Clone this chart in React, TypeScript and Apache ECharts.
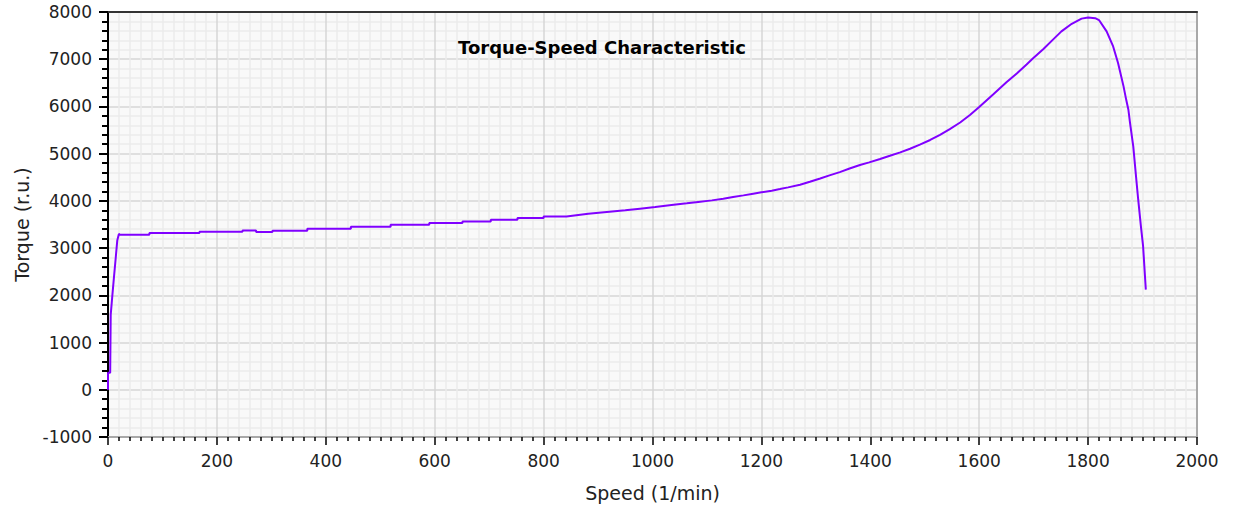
import React, { useEffect, useRef } from "react";
import * as echarts from "echarts";

const speed = [
  0, 0, 4, 5, 8, 11, 14, 17, 20, 22,
  76, 76, 168, 168, 247, 247, 272, 272, 302, 302, 366, 366, 446, 446, 519, 519, 590, 590, 651, 651, 703, 703, 752, 752, 800, 800,
  842, 882, 916, 950, 977, 1005, 1035, 1063, 1084, 1109, 1130, 1148, 1167, 1185, 1200, 1219, 1234, 1249,
  1271, 1289, 1308, 1325, 1344, 1362, 1381, 1398, 1418, 1436, 1455, 1473, 1491, 1510, 1528, 1546, 1565, 1583, 1600,
  1626, 1650, 1669, 1687, 1699, 1718, 1735, 1751, 1770, 1788, 1800, 1813, 1820,
  1834, 1846, 1855, 1865, 1870, 1874, 1877, 1883, 1888, 1892, 1897, 1901, 1906,
];
const torque = [
  0, 360, 360, 1590, 2000, 2390, 2770, 3160, 3300, 3284,
  3284, 3320, 3320, 3347, 3347, 3375, 3375, 3340, 3340, 3368, 3368, 3410, 3410, 3453, 3453, 3496, 3496, 3530, 3530, 3566, 3566, 3600, 3600, 3636, 3636, 3670,
  3670, 3728, 3764, 3800, 3835, 3870, 3912, 3948, 3977, 4011, 4047, 4082, 4117, 4153, 4181, 4216, 4250, 4286,
  4343, 4405, 4475, 4540, 4610, 4685, 4760, 4815, 4887, 4955, 5028, 5105, 5191, 5290, 5400, 5520, 5660, 5820, 5990,
  6260, 6510, 6700, 6890, 7020, 7215, 7410, 7590, 7750, 7860, 7885, 7870, 7830,
  7590, 7270, 6920, 6430, 6140, 5930, 5650, 5150, 4520, 4030, 3460, 3040, 2120,
];

const xRange = { min: 0, max: 2000, interval: 200 };
const yRange = { min: -1000, max: 8000, interval: 1000 };

const titleText = "Torque-Speed Characteristic";
const xName = "Speed (1/min)";
const yName = "Torque (r.u.)";

export default function App() {
  const ref = useRef<HTMLDivElement>(null);
  useEffect(() => {
    if (!ref.current) return;
    const chart = echarts.init(ref.current, null, { renderer: "svg" });
    const font = "DejaVu Sans";
    const data = speed.map((s, i) => [s, torque[i]]);
    const fmt = (v: number) => String(v);
    chart.setOption({
      animation: false,
      backgroundColor: "#ffffff",
      title: {
        text: titleText,
        left: 597,
        top: 33,
        textAlign: "center",
        textStyle: { fontFamily: font, fontWeight: "bold", fontSize: 18, color: "#000" },
      },
      grid: {
        left: 108,
        right: 38,
        top: 12,
        bottom: 74,
        show: true,
        backgroundColor: "#f9f9f9",
        borderWidth: 0,
      },
      xAxis: [
        {
          type: "value",
          ...xRange,
          name: xName,
          nameLocation: "middle",
          nameGap: 46,
          nameTextStyle: { fontFamily: font, fontSize: 19, color: "#222" },
          axisLine: { show: true, onZero: false, lineStyle: { color: "#a8a8a8", width: 2 } },
          axisTick: { show: true, length: 8, lineStyle: { color: "#000", width: 1.5 } },
          minorTick: { show: true, splitNumber: 10, length: 4, lineStyle: { color: "#000", width: 1.5 } },
          axisLabel: { margin: 15, fontFamily: font, fontSize: 17, color: "#222", formatter: fmt },
          splitLine: { show: true, lineStyle: { color: "#d6d6d6", width: 1.5 } },
          minorSplitLine: { show: true, lineStyle: { color: "#ebebeb", width: 1.5 } },
        },
        {
          type: "value",
          ...xRange,
          position: "top",
          axisLine: { show: true, onZero: false, lineStyle: { color: "#333", width: 2 } },
          axisTick: { show: false },
          axisLabel: { show: false },
          splitLine: { show: false },
        },
      ],
      yAxis: [
        {
          type: "value",
          ...yRange,
          name: yName,
          nameLocation: "middle",
          nameGap: 76,
          nameTextStyle: { fontFamily: font, fontSize: 19, color: "#222" },
          axisLine: { show: true, onZero: false, lineStyle: { color: "#000", width: 2 } },
          axisTick: { show: true, length: 9, lineStyle: { color: "#000", width: 2 } },
          minorTick: { show: true, splitNumber: 5, length: 6, lineStyle: { color: "#000", width: 2 } },
          axisLabel: { margin: 16, fontFamily: font, fontSize: 17, color: "#222", formatter: fmt },
          splitLine: { show: true, lineStyle: { color: "#d6d6d6", width: 1.5 } },
          minorSplitLine: { show: true, lineStyle: { color: "#ebebeb", width: 1.5 } },
        },
        {
          type: "value",
          ...yRange,
          position: "right",
          axisLine: { show: true, onZero: false, lineStyle: { color: "#a8a8a8", width: 2 } },
          axisTick: { show: false },
          axisLabel: { show: false },
          splitLine: { show: false },
        },
      ],
      series: [
        {
          type: "line",
          data,
          xAxisIndex: 0,
          yAxisIndex: 0,
          showSymbol: false,
          lineStyle: { color: "#8000ff", width: 2 },
          itemStyle: { color: "#8000ff" },
          z: 10,
        },
      ],
    });
    return () => chart.dispose();
  }, []);
  return (
    <div
      ref={ref}
      style={{ position: "fixed", left: 0, top: 0, width: 1235, height: 511 }}
    />
  );
}
